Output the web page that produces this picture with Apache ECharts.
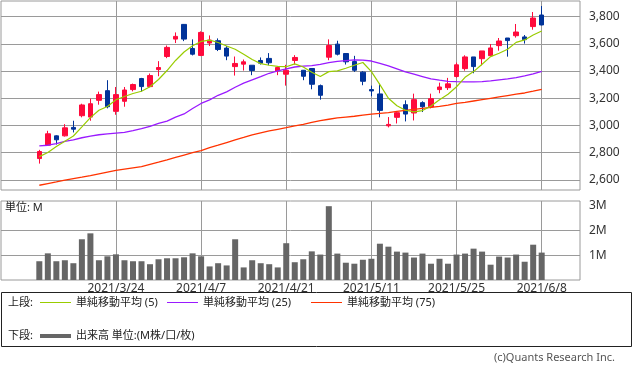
<!DOCTYPE html>
<html><head><meta charset="utf-8">
<script src="https://cdn.jsdelivr.net/npm/echarts@6/dist/echarts.min.js"></script>
<style>html,body{margin:0;padding:0;background:#fff;}#c{width:633px;height:372px;}</style>
</head><body><div id="c"></div>
<script>
const dates = ['2021/3/11','2021/3/12','2021/3/15','2021/3/16','2021/3/17','2021/3/18','2021/3/19','2021/3/22','2021/3/23','2021/3/24',
'2021/3/25','2021/3/26','2021/3/29','2021/3/30','2021/3/31','2021/4/1','2021/4/2','2021/4/5','2021/4/6','2021/4/7',
'2021/4/8','2021/4/9','2021/4/12','2021/4/13','2021/4/14','2021/4/15','2021/4/16','2021/4/19','2021/4/20','2021/4/21',
'2021/4/22','2021/4/23','2021/4/26','2021/4/27','2021/4/28','2021/4/30','2021/5/6','2021/5/7','2021/5/10','2021/5/11',
'2021/5/12','2021/5/13','2021/5/14','2021/5/17','2021/5/18','2021/5/19','2021/5/20','2021/5/21','2021/5/24','2021/5/25',
'2021/5/26','2021/5/27','2021/5/28','2021/5/31','2021/6/1','2021/6/2','2021/6/3','2021/6/4','2021/6/7','2021/6/8'];
const leftPad = ['2021/3/5','2021/3/8','2021/3/9','2021/3/10'];
const rightPad = ['2021/6/9','2021/6/10','2021/6/11','2021/6/14'];
const labelDates = ['2021/3/24','2021/4/7','2021/4/21','2021/5/11','2021/5/25','2021/6/8'];

const opens = [2757,2855,2924,2924,2986,3072,3062,3185,3256,3104,3178,3264,3345,3286,3411,3507,3635,3743,3566,3515,
3606,3623,3569,3433,3451,3443,3478,3493,3401,3377,3478,3406,3419,3293,3502,3598,3529,3470,3392,3264,
3232,2998,3060,3153,3092,3168,3136,3264,3278,3360,3418,3504,3491,3513,3587,3643,3660,3651,3727,3812];
const closes = [2809,2939,2895,2983,2973,3151,3160,3227,3138,3227,3261,3301,3286,3367,3426,3574,3655,3635,3524,3684,
3628,3559,3510,3456,3468,3404,3458,3461,3426,3406,3500,3362,3303,3222,3588,3524,3468,3406,3325,3254,
3111,3008,3094,3084,3190,3138,3197,3283,3306,3446,3504,3433,3548,3570,3621,3624,3687,3631,3790,3739];
const lows = [2720,2852,2860,2919,2949,3060,3035,3153,3126,3079,3138,3251,3249,3281,3362,3495,3606,3620,3515,3510,
3584,3547,3480,3367,3404,3370,3448,3443,3370,3293,3448,3333,3266,3190,3480,3515,3448,3394,3296,3215,
3060,2986,3015,3030,3037,3099,3126,3237,3261,3352,3403,3384,3442,3510,3550,3506,3646,3602,3704,3736];
const highs = [2821,2961,2928,3010,3035,3160,3197,3249,3333,3283,3283,3308,3350,3382,3473,3588,3684,3746,3633,3692,
3662,3640,3584,3507,3485,3443,3500,3532,3436,3446,3517,3408,3419,3301,3633,3623,3529,3512,3399,3293,
3308,3062,3099,3185,3234,3178,3234,3315,3350,3462,3516,3504,3548,3599,3643,3643,3746,3665,3834,3878];

const ma5 = [2771,2801,2845,2885,2923,2990,3058,3112,3140,3189,3213,3235,3252,3285,3338,3404,3478,3540,3586,3618,
3628,3610,3584,3560,3524,3485,3455,3443,3435,3432,3453,3430,3392,3360,3396,3402,3421,3443,3463,3396,
3300,3200,3145,3112,3100,3110,3144,3190,3230,3285,3354,3396,3450,3506,3531,3560,3611,3629,3665,3695];
const ma25 = [2850,2855,2867,2884,2895,2910,2922,2932,2938,2944,2950,2963,2977,2994,3015,3032,3062,3085,3125,3162,
3188,3222,3247,3281,3311,3335,3359,3384,3401,3416,3430,3436,3440,3450,3462,3472,3477,3482,3480,3474,
3457,3438,3416,3394,3377,3360,3342,3333,3325,3322,3320,3320,3322,3328,3335,3342,3352,3364,3379,3398];
const ma75 = [2561,2573,2585,2598,2609,2620,2632,2645,2658,2671,2680,2689,2698,2714,2730,2747,2765,2783,2801,2816,
2838,2855,2875,2894,2912,2931,2946,2960,2972,2984,2997,3009,3023,3036,3046,3056,3062,3068,3076,3083,
3089,3095,3104,3111,3118,3126,3133,3141,3150,3162,3170,3180,3190,3200,3210,3220,3230,3239,3252,3266];
const volumes = [0.76,1.08,0.76,0.80,0.68,1.65,1.89,0.80,0.96,1.04,0.80,0.76,0.76,0.64,0.84,0.88,0.88,0.92,1.08,0.96,
0.55,0.68,0.59,1.65,0.51,0.80,0.68,0.64,0.51,1.49,0.72,0.84,1.16,1.03,2.99,1.07,0.70,0.66,0.82,0.86,
1.47,1.35,1.15,1.11,0.91,1.07,0.66,0.86,0.66,1.03,1.07,1.27,1.15,0.62,0.95,0.91,1.03,0.74,1.43,1.11];

const priceTicks = [2600,2800,3000,3200,3400,3600,3800];
const volGridTicks = [1,2];
const volLabelTicks = [1,2,3];

const cats = leftPad.concat(dates, rightPad);
const padL = leftPad.map(() => '-');
const padR = rightPad.map(() => '-');
const candleData = padL.map(() => ['-','-','-','-']).concat(
  dates.map((d, i) => [opens[i], closes[i], lows[i], highs[i]]),
  padR.map(() => ['-','-','-','-']));
const pad = arr => padL.concat(arr, padR);
const labelIdx = labelDates.map(d => cats.indexOf(d));

const FONT = 'Noto Sans, Noto Sans CJK JP, sans-serif';
const GRID = '#9a9a9a';

const chart = echarts.init(document.getElementById('c'), null, {renderer: 'canvas'});
const hiddenCat = (g) => ({type: 'category', gridIndex: g, position: 'bottom', data: cats, boundaryGap: true,
  axisLine: {show: false}, axisTick: {show: false}, axisLabel: {show: false}, splitLine: {show: false}});
const overlay = (g, showLabel) => ({type: 'value', gridIndex: g, position: 'bottom', min: -0.5, max: cats.length - 0.5,
  axisLine: {show: false},
  axisTick: {show: false, customValues: labelIdx},
  axisLabel: {show: showLabel, customValues: labelIdx, margin: 3, color: '#333', fontSize: 12, fontFamily: FONT,
    formatter: v => cats[Math.round(v)] || ''},
  splitLine: {show: true, lineStyle: {color: GRID, width: 1}}});

chart.setOption({
  animation: false,
  backgroundColor: '#fff',
  grid: [
    {left: 1, top: 1, width: 579, height: 189, show: true, borderColor: GRID, borderWidth: 1},
    {left: 1, top: 201, width: 579, height: 79, show: true, borderColor: GRID, borderWidth: 1}
  ],
  xAxis: [hiddenCat(0), overlay(0, false), hiddenCat(1), overlay(1, true)],
  yAxis: [
    {type: 'value', gridIndex: 0, position: 'right', min: 2526, max: 3915,
      axisLine: {show: false},
      axisTick: {show: true, length: 5, customValues: priceTicks, lineStyle: {color: GRID}},
      axisLabel: {customValues: priceTicks, margin: 9, color: '#333', fontSize: 12, fontFamily: FONT,
        formatter: v => Number(v).toLocaleString('en-US')},
      splitLine: {show: true, lineStyle: {color: GRID, width: 1}}},
    {type: 'value', gridIndex: 1, position: 'right', min: 0, max: 3.2,
      axisLine: {show: false},
      axisTick: {show: true, length: 5, customValues: volGridTicks, lineStyle: {color: GRID}},
      axisLabel: {customValues: volLabelTicks, margin: 9, color: '#333', fontSize: 12, fontFamily: FONT,
        formatter: v => Math.round(v) + 'M'},
      splitLine: {show: true, lineStyle: {color: GRID, width: 1}}}
  ],
  series: [
    {type: 'candlestick', xAxisIndex: 0, yAxisIndex: 0, data: candleData, barWidth: 5,
      itemStyle: {color: '#ff0a3c', color0: '#003399', borderColor: '#ff0a3c', borderColor0: '#003399', borderWidth: 1}},
    {type: 'line', xAxisIndex: 0, yAxisIndex: 0, data: pad(ma75), symbol: 'none', lineStyle: {color: '#ff3300', width: 1.3}},
    {type: 'line', xAxisIndex: 0, yAxisIndex: 0, data: pad(ma25), symbol: 'none', lineStyle: {color: '#9a1aff', width: 1.3}},
    {type: 'line', xAxisIndex: 0, yAxisIndex: 0, data: pad(ma5), symbol: 'none', lineStyle: {color: '#99cc00', width: 1.2}},
    {type: 'bar', xAxisIndex: 2, yAxisIndex: 1, data: pad(volumes), barWidth: 6, itemStyle: {color: '#666666'}}
  ],
  graphic: [
    {type: 'text', left: 5, top: 202, style: {text: '単位: M', fill: '#222', font: '11px ' + FONT}},
    {type: 'rect', shape: {x: 1.5, y: 292.5, width: 630, height: 54}, style: {fill: 'none', stroke: '#222', lineWidth: 1}},
    {type: 'text', x: 8, y: 303, style: {text: '上段:', fill: '#222', font: '11px ' + FONT, verticalAlign: 'middle'}},
    {type: 'line', shape: {x1: 40, y1: 302.5, x2: 71, y2: 302.5}, style: {stroke: '#99cc00', lineWidth: 1}},
    {type: 'text', x: 76, y: 303, style: {text: '単純移動平均 (5)', fill: '#222', font: '11px ' + FONT, verticalAlign: 'middle'}},
    {type: 'line', shape: {x1: 167, y1: 302.5, x2: 198, y2: 302.5}, style: {stroke: '#9a1aff', lineWidth: 1}},
    {type: 'text', x: 203, y: 303, style: {text: '単純移動平均 (25)', fill: '#222', font: '11px ' + FONT, verticalAlign: 'middle'}},
    {type: 'line', shape: {x1: 311, y1: 302.5, x2: 342, y2: 302.5}, style: {stroke: '#ff3300', lineWidth: 1}},
    {type: 'text', x: 347, y: 303, style: {text: '単純移動平均 (75)', fill: '#222', font: '11px ' + FONT, verticalAlign: 'middle'}},
    {type: 'text', x: 8, y: 336, style: {text: '下段:', fill: '#222', font: '11px ' + FONT, verticalAlign: 'middle'}},
    {type: 'line', shape: {x1: 40, y1: 336, x2: 71, y2: 336}, style: {stroke: '#666666', lineWidth: 4}},
    {type: 'text', x: 76, y: 336, style: {text: '出来高 単位:(M株/口/枚)', fill: '#222', font: '11px ' + FONT, verticalAlign: 'middle'}},
    {type: 'text', x: 615, y: 358, style: {text: '(c)Quants Research Inc.', fill: '#555', font: '11px ' + FONT, align: 'right', verticalAlign: 'middle'}}
  ]
});
</script></body></html>
